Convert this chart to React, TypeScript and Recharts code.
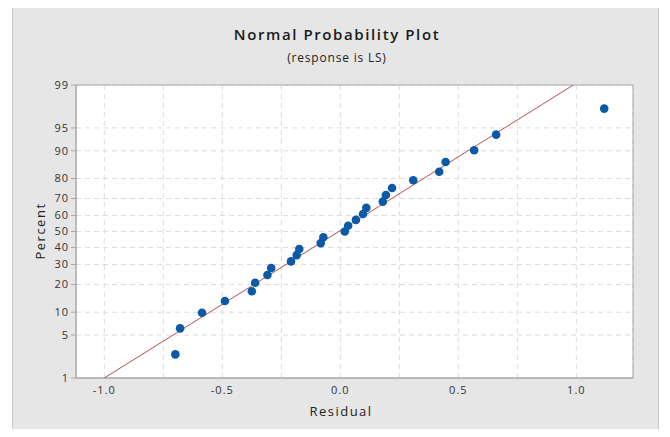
import React from 'react';
import { ScatterChart, Scatter, XAxis, YAxis, CartesianGrid, ReferenceArea } from 'recharts';

// residuals, in rank order
const residuals = [
  -0.699, -0.679, -0.586, -0.489, -0.375, -0.361, -0.309, -0.293, -0.209,
  -0.185, -0.174, -0.083, -0.072, 0.019, 0.033, 0.066, 0.096, 0.110,
  0.180, 0.193, 0.219, 0.309, 0.419, 0.446, 0.567, 0.660, 1.118,
];

// plotted percent for each residual
const percents = [
  2.55, 6.2, 9.85, 13.5, 17.15, 20.8, 24.45, 28.1, 31.75,
  35.4, 39.05, 42.7, 46.35, 50.0, 53.65, 57.3, 60.95, 64.6,
  68.25, 71.9, 75.55, 79.2, 82.85, 86.5, 90.15, 93.8, 97.45,
];

// fitted normal line end points
const fitResidual = [-1.0, 0.987];
const fitPercent = [1, 99];

const yTickPercents = [1, 5, 10, 20, 30, 40, 50, 60, 70, 80, 90, 95, 99];
const xTicks = [-1, -0.75, -0.5, -0.25, 0, 0.25, 0.5, 0.75, 1];
const xTickLabels = ['-1.0', '', '-0.5', '', '0.0', '', '0.5', '', '1.0'];

// inverse normal cdf (Acklam) -> probability axis
const probit = (p: number) => {
  const a = [-39.69683028665376, 220.9460984245205, -275.9285104469687, 138.357751867269, -30.66479806614716, 2.506628277459239];
  const b = [-54.47609879822406, 161.5858368580409, -155.6989798598866, 66.80131188771972, -13.28068155288572];
  const c = [-0.007784894002430293, -0.3223964580411365, -2.400758277161838, -2.549732621743525, 4.374664141464968, 2.938163982698783];
  const d = [0.007784695709041462, 0.3224671290700398, 2.445134137142996, 3.754408661907416];
  const plow = 0.02425;
  if (p < plow) {
    const q = Math.sqrt(-2 * Math.log(p));
    return (((((c[0] * q + c[1]) * q + c[2]) * q + c[3]) * q + c[4]) * q + c[5]) /
      ((((d[0] * q + d[1]) * q + d[2]) * q + d[3]) * q + 1);
  }
  if (p > 1 - plow) {
    const q = Math.sqrt(-2 * Math.log(1 - p));
    return -(((((c[0] * q + c[1]) * q + c[2]) * q + c[3]) * q + c[4]) * q + c[5]) /
      ((((d[0] * q + d[1]) * q + d[2]) * q + d[3]) * q + 1);
  }
  const q = p - 0.5;
  const r = q * q;
  return (((((a[0] * r + a[1]) * r + a[2]) * r + a[3]) * r + a[4]) * r + a[5]) * q /
    (((((b[0] * r + b[1]) * r + b[2]) * r + b[3]) * r + b[4]) * r + 1);
};

const points = residuals.map((r, i) => ({ x: r, y: probit(percents[i] / 100) }));
const fitLine = fitResidual.map((r, i) => ({ x: r, y: probit(fitPercent[i] / 100) }));
const yTicks = yTickPercents.map(p => probit(p / 100));
const yDomain = [probit(0.01), probit(0.99)];

const FONT = '"Open Sans", sans-serif';
const tickStyle = { fill: '#333', fontSize: 11, fontFamily: FONT, letterSpacing: 1 };

const Dot = (props: any) => (
  <circle cx={props.cx} cy={props.cy} r={4.3} fill="#0b5aa8" />
);

const App: React.FC = () => {
  return (
    <div style={{ margin: -8, width: 670, height: 437, position: 'relative', background: '#fff', overflow: 'hidden' }}>
      <div style={{
        position: 'absolute', left: 12, top: 6, width: 645, height: 440,
        background: '#e6e6e6', border: '1px solid #c8c8c8',
      }} />
      <div style={{ position: 'absolute', left: 0, top: 0 }}>
        <ScatterChart width={670} height={437} margin={{ top: 85, right: 37, bottom: 29, left: 16 }}>
          <CartesianGrid strokeDasharray="5 4" stroke="#dcdcdc" fill="#fff" />
          <XAxis
            type="number"
            dataKey="x"
            domain={[-1.12, 1.24]}
            ticks={xTicks}
            interval={0}
            allowDataOverflow
            tickLine={false}
            axisLine={{ stroke: '#a8a8a8' }}
            tick={tickStyle}
            tickFormatter={(v: number) => xTickLabels[xTicks.findIndex(t => Math.abs(t - v) < 1e-9)] ?? ''}
            height={30}
          />
          <YAxis
            type="number"
            dataKey="y"
            domain={yDomain}
            ticks={yTicks}
            interval={0}
            allowDataOverflow
            tickSize={5}
            tickMargin={2}
            tickLine={{ stroke: '#a8a8a8' }}
            axisLine={{ stroke: '#a8a8a8' }}
            tick={tickStyle}
            tickFormatter={(v: number) => String(yTickPercents[yTicks.findIndex(t => Math.abs(t - v) < 1e-9)] ?? '')}
            width={60}
          />
          <ReferenceArea x1={-1.12} x2={1.24} y1={yDomain[0]} y2={yDomain[1]} fill="none" stroke="#a8a8a8" />
          <Scatter data={fitLine} line={{ stroke: '#b03030', strokeWidth: 1, strokeOpacity: 0.85 }} shape={() => <g />} isAnimationActive={false} />
          <Scatter data={points} shape={Dot} isAnimationActive={false} />
        </ScatterChart>
      </div>
      <div style={{ position: 'absolute', left: 0, width: 674, top: 24, textAlign: 'center', fontFamily: FONT, fontSize: 15, fontWeight: 600, letterSpacing: 1.6, color: '#1a1a1a' }}>
        Normal Probability Plot
      </div>
      <div style={{ position: 'absolute', left: 0, width: 674, top: 49, textAlign: 'center', fontFamily: FONT, fontSize: 12, letterSpacing: 0.8, color: '#222' }}>
        (response is LS)
      </div>
      <div style={{ position: 'absolute', left: 0, width: 682, top: 402, textAlign: 'center', fontFamily: FONT, fontSize: 13, letterSpacing: 1.5, color: '#222' }}>
        Residual
      </div>
      <div style={{
        position: 'absolute', left: 40, top: 231, transform: 'translate(-50%, -50%) rotate(-90deg)',
        fontFamily: FONT, fontSize: 13, letterSpacing: 1.5, color: '#222', whiteSpace: 'nowrap',
      }}>
        Percent
      </div>
    </div>
  );
};

export default App;
